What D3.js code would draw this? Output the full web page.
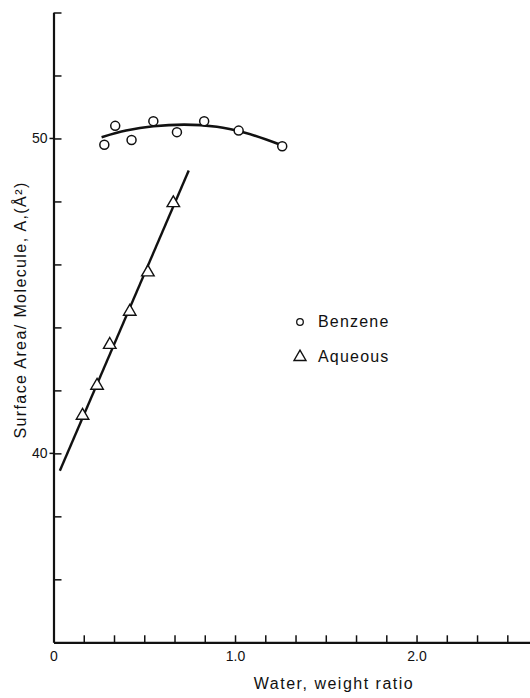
<!DOCTYPE html>
<html>
<head>
<meta charset="utf-8">
<script src="https://cdn.jsdelivr.net/npm/d3@7"></script>
<style>
  body { margin: 0; background: #fff; }
  svg text { font-family: "Liberation Sans", Arial, sans-serif; fill: #111; }
</style>
</head>
<body>
<main></main>
<script>
// datos
const benzeneX = [0.28, 0.34, 0.43, 0.55, 0.68, 0.83, 1.02, 1.26];
const benzeneY = [49.8, 50.4, 49.95, 50.55, 50.2, 50.55, 50.25, 49.75];
const aqueousX = [0.16, 0.24, 0.31, 0.42, 0.52, 0.66];
const aqueousY = [41.2, 42.15, 43.45, 44.5, 45.75, 47.95];

// curvas ajustadas
const benzeneFitX = [0.265, 0.4, 0.55, 0.72, 0.9, 1.05, 1.25];
const benzeneFitY = [50.04, 50.25, 50.39, 50.44, 50.37, 50.19, 49.8];
const aqueousFitX = [0.035, 0.745];
const aqueousFitY = [39.45, 48.98];

const xTicks = d3.range(0, 16).map(i => i / 6);
const xLabels = { 0: "0", 1: "1.0", 2: "2.0" };
const yTicks = d3.range(36, 55, 2);
const yLabels = { 40: "40", 50: "50" };

const w = 530, h = 698;

const svg = d3.select('main')
    .append('svg')
    .attr('width', w)
    .attr('height', h);

const x = d3.scaleLinear().domain([0, 2.625]).range([53.5, 530]);
const y = d3.scaleLinear().domain([34, 54]).range([642.3, 12.5]);

// eje X
const ejeX = svg.append('g')
    .attr('transform', `translate(0,${y(34)})`)
    .call(d3.axisBottom(x)
        .tickValues(xTicks)
        .tickSize(-7)
        .tickSizeOuter(0)
        .tickPadding(9)
        .tickFormat(d => {
            const k = Math.round(d * 6);
            return k % 6 === 0 ? xLabels[k / 6] : "";
        }));
ejeX.select('.domain').attr('stroke', '#111').attr('stroke-width', 2.2);
ejeX.selectAll('.tick line').attr('stroke', '#111').attr('stroke-width', 1.5);
ejeX.selectAll('text').attr('font-size', 14).attr('font-family', '"Liberation Sans", Arial, sans-serif');

// eje Y
const ejeY = svg.append('g')
    .attr('transform', `translate(${x(0)},0)`)
    .call(d3.axisLeft(y)
        .tickValues(yTicks)
        .tickSize(-8)
        .tickSizeOuter(0)
        .tickPadding(6)
        .tickFormat(d => yLabels[d] || ""));
ejeY.select('.domain').attr('stroke', '#111').attr('stroke-width', 2.2);
ejeY.selectAll('.tick line').attr('stroke', '#111').attr('stroke-width', 1.5);
ejeY.selectAll('text').attr('font-size', 14).attr('font-family', '"Liberation Sans", Arial, sans-serif');

// pequeña marca exterior en los ticks con etiqueta
svg.selectAll('.marcaY')
    .data([40, 50])
    .enter()
    .append('line')
    .attr('x1', x(0) - 4)
    .attr('x2', x(0))
    .attr('y1', d => y(d))
    .attr('y2', d => y(d))
    .attr('stroke', '#111')
    .attr('stroke-width', 1.5);

// titulos de ejes
svg.append('text')
    .attr('x', 334)
    .attr('y', 689)
    .attr('text-anchor', 'middle')
    .style('font-size', '16px')
    .style('letter-spacing', '1.5px')
    .text('Water, weight ratio');

svg.append('text')
    .attr('transform', 'translate(26,310) rotate(-90)')
    .attr('text-anchor', 'middle')
    .style('font-size', '16px')
    .style('letter-spacing', '1.4px')
    .text('Surface Area/ Molecule, A,(Å²)');

// lineas ajustadas
const linea = d3.line()
    .x(d => x(d[0]))
    .y(d => y(d[1]))
    .curve(d3.curveMonotoneX);

svg.append('path')
    .datum(benzeneFitX.map((v, i) => [v, benzeneFitY[i]]))
    .attr('d', linea)
    .attr('fill', 'none')
    .attr('stroke', '#111')
    .attr('stroke-width', 2.6);

svg.append('path')
    .datum(aqueousFitX.map((v, i) => [v, aqueousFitY[i]]))
    .attr('d', linea)
    .attr('fill', 'none')
    .attr('stroke', '#111')
    .attr('stroke-width', 2.4);

// puntos
svg.selectAll('.benzene')
    .data(benzeneX.map((v, i) => [v, benzeneY[i]]))
    .enter()
    .append('circle')
    .attr('class', 'benzene')
    .attr('cx', d => x(d[0]))
    .attr('cy', d => y(d[1]))
    .attr('r', 4.5)
    .attr('fill', '#fff')
    .attr('stroke', '#111')
    .attr('stroke-width', 1.5);

const triangulo = d3.symbol().type(d3.symbolTriangle).size(68);

svg.selectAll('.aqueous')
    .data(aqueousX.map((v, i) => [v, aqueousY[i]]))
    .enter()
    .append('path')
    .attr('class', 'aqueous')
    .attr('d', triangulo)
    .attr('transform', d => `translate(${x(d[0])},${y(d[1])})`)
    .attr('fill', '#fff')
    .attr('stroke', '#111')
    .attr('stroke-width', 1.4);

// leyenda
svg.append('circle')
    .attr('cx', 300)
    .attr('cy', 322)
    .attr('r', 3.3)
    .attr('fill', '#fff')
    .attr('stroke', '#111')
    .attr('stroke-width', 1.3);

svg.append('text')
    .attr('x', 318)
    .attr('y', 327)
    .style('font-size', '16px')
    .style('letter-spacing', '1.2px')
    .text('Benzene');

svg.append('path')
    .attr('d', d3.symbol().type(d3.symbolTriangle).size(62)())
    .attr('transform', 'translate(300,357)')
    .attr('fill', '#fff')
    .attr('stroke', '#111')
    .attr('stroke-width', 1.4);

svg.append('text')
    .attr('x', 318)
    .attr('y', 362)
    .style('font-size', '16px')
    .style('letter-spacing', '1.2px')
    .text('Aqueous');
</script>
</body>
</html>
